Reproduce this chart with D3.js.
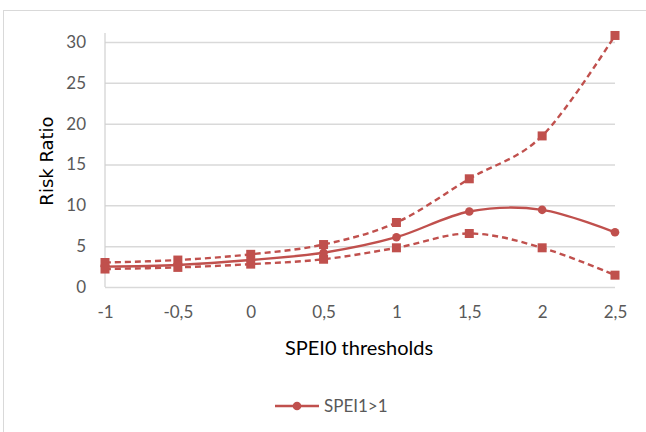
<!DOCTYPE html>
<html>
<head>
<meta charset="utf-8">
<script src="https://cdn.jsdelivr.net/npm/d3@7"></script>
<style>
  body { margin: 0; background: #fff; }
  svg { display: block; }
</style>
</head>
<body>
<svg id="chart" width="646" height="432"></svg>
<script>
// data
const thresholds = [-1, -0.5, 0, 0.5, 1, 1.5, 2, 2.5];
const tickLabels = ["-1", "-0,5", "0", "0,5", "1", "1,5", "2", "2,5"];
const riskRatio = [2.5, 2.7, 3.3, 4.2, 6.1, 9.25, 9.45, 6.7];
const upperCI = [3.0, 3.3, 4.0, 5.2, 7.9, 13.25, 18.5, 30.8];
const lowerCI = [2.2, 2.4, 2.8, 3.4, 4.8, 6.55, 4.8, 1.45];
const yTicks = [0, 5, 10, 15, 20, 25, 30];

const RED = "#C0504D";
const FONT = "Lato, 'Open Sans', sans-serif";

const svg = d3.select("#chart");

// outer chart border
svg.append("rect")
  .attr("x", 3.5).attr("y", 10.5)
  .attr("width", 700).attr("height", 500)
  .attr("fill", "none").attr("stroke", "#d9d9d9");

const x = d3.scaleLinear([-1, 2.5], [105, 615]);
const y = d3.scaleLinear([0, 30], [287, 42]);

// gridlines
svg.append("g")
  .attr("transform", "translate(105,0)")
  .call(d3.axisLeft(y).tickValues(yTicks).tickSize(-510).tickFormat(""))
  .call(g => g.select(".domain").remove())
  .call(g => g.selectAll("line").attr("stroke", "#d9d9d9").attr("stroke-width", 1.5));

// y axis line
svg.append("line")
  .attr("x1", 105).attr("x2", 105)
  .attr("y1", 33).attr("y2", y(0))
  .attr("stroke", "#d0d0d0").attr("stroke-width", 1.2);

// y tick labels
svg.append("g")
  .attr("transform", "translate(105,0)")
  .call(d3.axisLeft(y).tickValues(yTicks).tickSize(0).tickPadding(19))
  .call(g => g.select(".domain").remove())
  .call(g => g.selectAll("text")
    .attr("fill", "#595959").attr("font-family", FONT).attr("font-size", 17));

// x tick labels
svg.append("g")
  .attr("transform", `translate(0,${y(0)})`)
  .call(d3.axisBottom(x).tickValues(thresholds).tickSize(0).tickPadding(19)
    .tickFormat((d, i) => tickLabels[i]))
  .call(g => g.select(".domain").remove())
  .call(g => g.selectAll("text")
    .attr("fill", "#595959").attr("font-family", FONT).attr("font-size", 17));

// axis titles
svg.append("text")
  .attr("x", 359).attr("y", 355)
  .attr("text-anchor", "middle")
  .attr("font-family", FONT).attr("font-size", 20).attr("fill", "#000")
  .text("SPEI0 thresholds");

svg.append("text")
  .attr("transform", "translate(53,161) rotate(-90)")
  .attr("text-anchor", "middle")
  .attr("font-family", "'DejaVu Sans', sans-serif").attr("font-size", 18).attr("fill", "#000")
  .text("Risk Ratio");

const line = d3.line()
  .x((d, i) => x(thresholds[i]))
  .y(d => y(d))
  .curve(d3.curveCardinal.tension(0));

function series(vals, dashed, marker) {
  const g = svg.append("g");
  g.append("path")
    .attr("d", line(vals))
    .attr("fill", "none")
    .attr("stroke", RED)
    .attr("stroke-width", 2.4)
    .attr("stroke-dasharray", dashed ? "6,4" : null);
  if (marker === "square") {
    g.selectAll("rect").data(vals).join("rect")
      .attr("x", (d, i) => x(thresholds[i]) - 4.5)
      .attr("y", d => y(d) - 4.5)
      .attr("width", 9).attr("height", 9)
      .attr("fill", RED);
  } else {
    g.selectAll("circle").data(vals).join("circle")
      .attr("cx", (d, i) => x(thresholds[i]))
      .attr("cy", d => y(d))
      .attr("r", 4.3)
      .attr("fill", RED);
  }
}

series(upperCI, true, "square");
series(lowerCI, true, "square");
series(riskRatio, false, "circle");

// legend
const lg = svg.append("g").attr("transform", "translate(275,406)");
lg.append("line").attr("x1", 0).attr("x2", 44)
  .attr("stroke", RED).attr("stroke-width", 2.4);
lg.append("circle").attr("cx", 22).attr("r", 4.3).attr("fill", RED);
lg.append("text")
  .attr("x", 49).attr("dy", "0.35em")
  .attr("font-family", FONT).attr("font-size", 17).attr("fill", "#595959")
  .text("SPEI1>1");
</script>
</body>
</html>
